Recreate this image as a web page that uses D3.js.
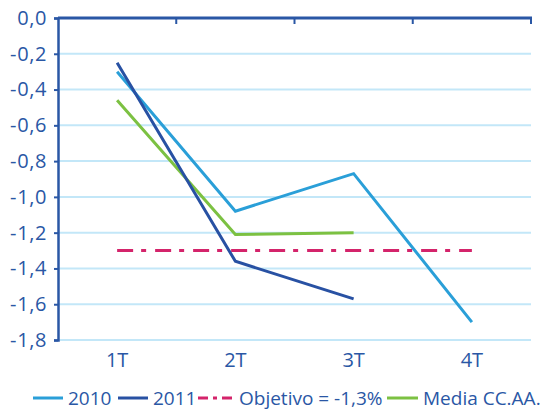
<!DOCTYPE html>
<html><head><meta charset="utf-8">
<script src="https://cdn.jsdelivr.net/npm/d3@7"></script>
<style>
html,body{margin:0;padding:0;background:#fff;}
text{font-family:"Open Sans",sans-serif;fill:#2a57a5;font-weight:500;}
</style></head>
<body><svg id="c" width="545" height="412"></svg>
<script>
const categories = ["1T","2T","3T","4T"];
const s2010 = [-0.30, -1.08, -0.87, -1.70];
const s2011 = [-0.25, -1.36, -1.57, null];
const media = [-0.46, -1.21, -1.20, null];
const objetivo = -1.3;
const yTicks = [0,-0.2,-0.4,-0.6,-0.8,-1.0,-1.2,-1.4,-1.6,-1.8];
const legendLabels = ["2010","2011","Objetivo = -1,3%","Media CC.AA."];

const svg = d3.select("#c");
const L = 58, R = 531, T = 18, B = 340;
const x = d3.scaleBand().domain(categories).range([L, R]);
const y = d3.scaleLinear().domain([0, -1.8]).range([T, B]);
const cx = d => x(d) + x.bandwidth()/2;
const fmt = v => d3.format(".1f")(v).replace(".", ",").replace("−","-");

// gridlines
svg.append("g").selectAll("line").data(yTicks.slice(1)).join("line")
  .attr("x1", L).attr("x2", R).attr("y1", d => y(d)).attr("y2", d => y(d))
  .attr("stroke", "#c3e7f8").attr("stroke-width", 2);

// y axis
const yAxis = svg.append("g").attr("transform", `translate(${L},0)`)
  .call(d3.axisLeft(y).tickValues(yTicks).tickFormat(fmt).tickSize(4).tickPadding(7));
yAxis.select(".domain").attr("stroke", "#2a57a5").attr("stroke-width", 2.5);
yAxis.selectAll(".tick line").attr("stroke", "#2a57a5").attr("stroke-width", 2);
yAxis.selectAll("text").attr("font-size", 20).attr("fill", "#2a57a5")
  .attr("font-family", "Open Sans").attr("font-weight", 500).attr("letter-spacing", 0.6);

// top axis (0 line) with ticks at band boundaries
svg.append("line").attr("x1", L).attr("x2", R + 1).attr("y1", y(0)).attr("y2", y(0))
  .attr("stroke", "#2a57a5").attr("stroke-width", 3);
const bounds = categories.map(c => x(c) + x.bandwidth());
svg.append("g").selectAll("line").data(bounds).join("line")
  .attr("x1", d => d).attr("x2", d => d).attr("y1", y(0)).attr("y2", y(0) + 6)
  .attr("stroke", "#2a57a5").attr("stroke-width", 2);

// category labels
svg.append("g").selectAll("text").data(categories).join("text")
  .attr("x", d => cx(d)).attr("y", 367).attr("text-anchor", "middle")
  .attr("font-size", 20).text(d => d);

// series
const line = d3.line().defined(d => d.v !== null).x(d => cx(d.c)).y(d => y(d.v));
const toPts = arr => arr.map((v, i) => ({c: categories[i], v}));
const series = [
  {data: s2010, color: "#2a9fd8"},
  {data: s2011, color: "#2851a3"},
  {data: media, color: "#7cc142"}
];
// objetivo
svg.append("line")
  .attr("x1", cx(categories[0])).attr("x2", cx(categories[3]))
  .attr("y1", y(objetivo)).attr("y2", y(objetivo))
  .attr("stroke", "#d4246b").attr("stroke-width", 3).attr("stroke-dasharray", "16,8,5,9");

[series[0], series[2], series[1]].forEach(s => {
  svg.append("path").datum(toPts(s.data)).attr("d", line)
    .attr("fill", "none").attr("stroke", s.color).attr("stroke-width", 3)
    .attr("stroke-linejoin", "miter");
});

// legend
const leg = svg.append("g");
const legItems = [
  {label: legendLabels[0], color: "#2a9fd8", x1: 33, x2: 63, tx: 68, dash: null},
  {label: legendLabels[1], color: "#2851a3", x1: 118, x2: 148, tx: 153, dash: null},
  {label: legendLabels[2], color: "#d4246b", x1: 198, x2: 234, tx: 239, dash: "10,5,4,5"},
  {label: legendLabels[3], color: "#7cc142", x1: 387, x2: 418, tx: 423, dash: null}
];
legItems.forEach(it => {
  leg.append("line").attr("x1", it.x1).attr("x2", it.x2).attr("y1", 398).attr("y2", 398)
    .attr("stroke", it.color).attr("stroke-width", 3)
    .attr("stroke-dasharray", it.dash);
  leg.append("text").attr("x", it.tx).attr("y", 405).attr("font-size", 19).text(it.label);
});
</script></body></html>
